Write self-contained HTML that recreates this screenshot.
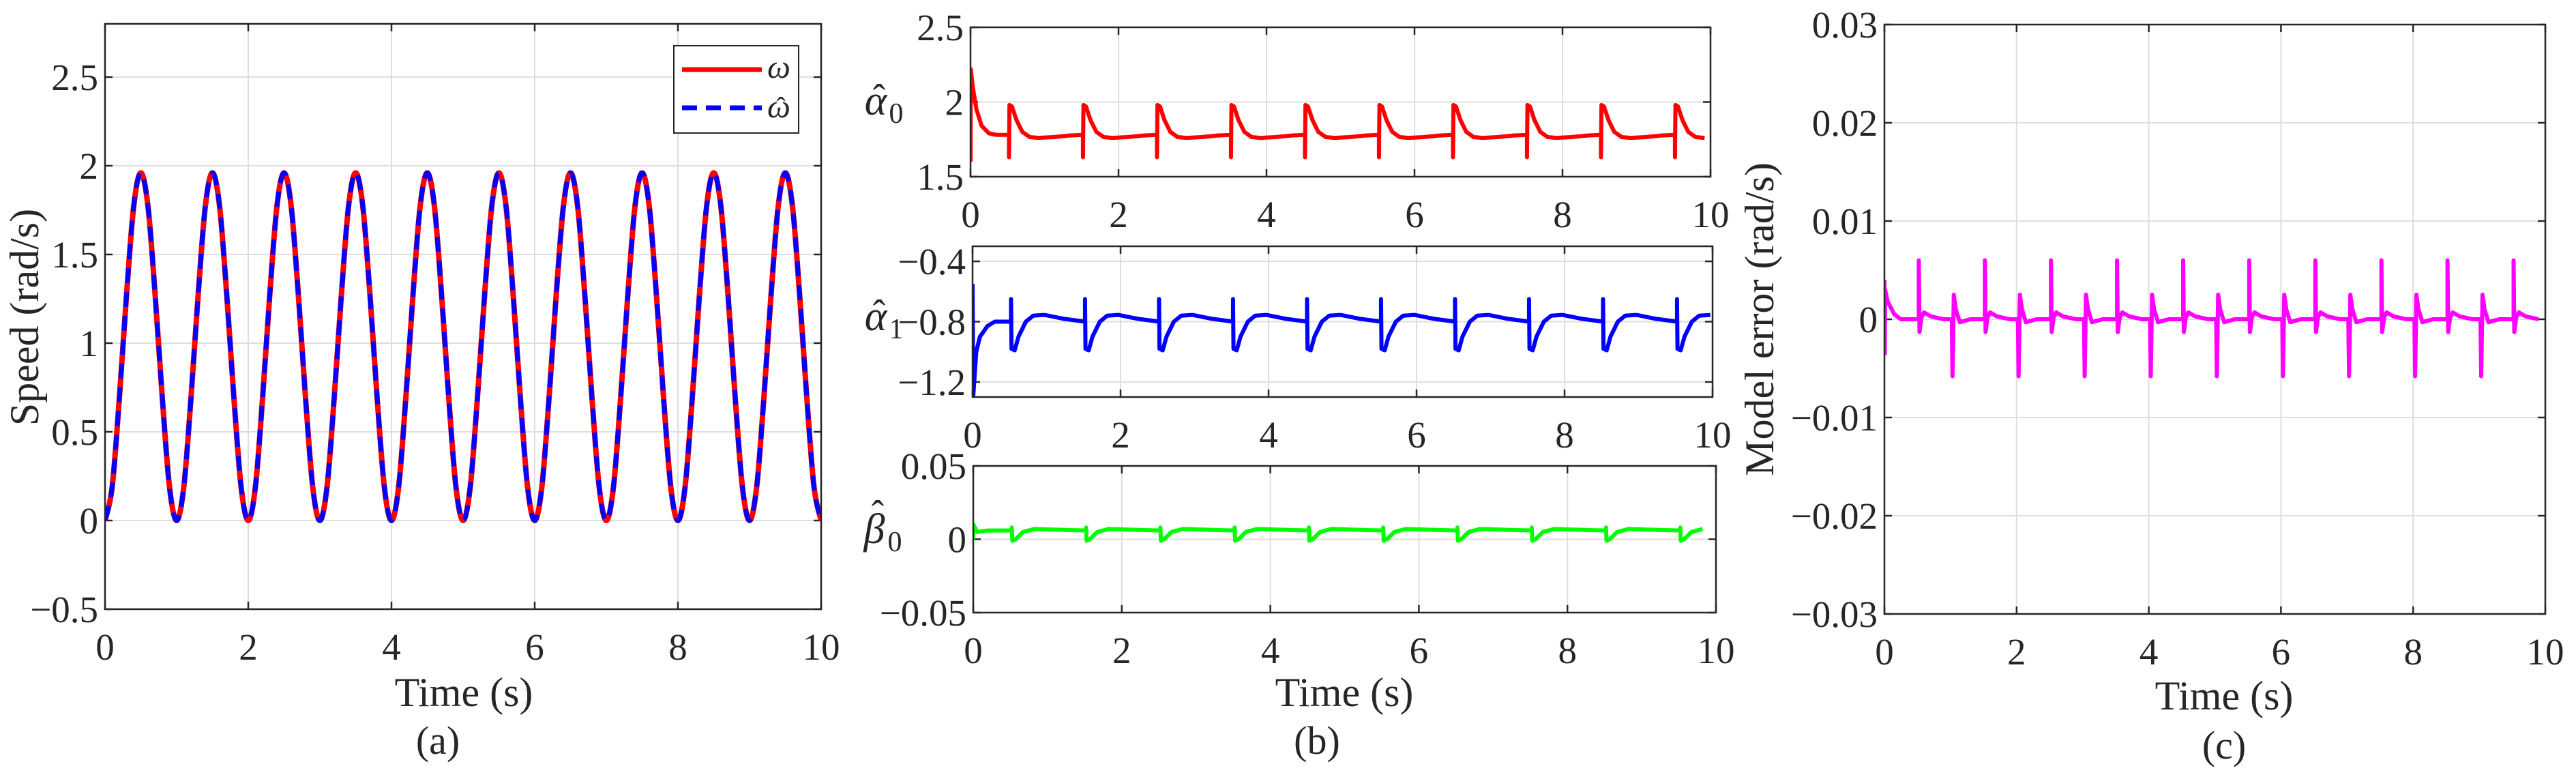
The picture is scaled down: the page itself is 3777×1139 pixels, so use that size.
<!DOCTYPE html>
<html><head><meta charset="utf-8"><style>
html,body{margin:0;padding:0;background:#fff;overflow:hidden;}
svg{display:block;font-family:"Liberation Serif",serif;}
</style></head><body>
<svg id="fig" width="3777" height="1139" viewBox="0 0 3777 1139" xmlns="http://www.w3.org/2000/svg"></svg>
<script>
// ---------- data ----------
const speedTimeStep = 0.1;
const speedValues = [0,0.19,0.69,1.27,1.77,1.96,1.77,1.27,0.69,0.19,
0,0.19,0.69,1.27,1.77,1.96,1.77,1.27,0.69,0.19,
0,0.19,0.69,1.27,1.77,1.96,1.77,1.27,0.69,0.19,
0,0.19,0.69,1.27,1.77,1.96,1.77,1.27,0.69,0.19,
0,0.19,0.69,1.27,1.77,1.96,1.77,1.27,0.69,0.19,
0,0.19,0.69,1.27,1.77,1.96,1.77,1.27,0.69,0.19,
0,0.19,0.69,1.27,1.77,1.96,1.77,1.27,0.69,0.19,
0,0.19,0.69,1.27,1.77,1.96,1.77,1.27,0.69,0.19,
0,0.19,0.69,1.27,1.77,1.96,1.77,1.27,0.69,0.19,
0,0.19,0.69,1.27,1.77,1.96,1.77,1.27,0.69,0.19,0];
const estSpeedValues = speedValues.slice();
const spikeTimes = [0.52,1.52,2.52,3.52,4.52,5.52,6.52,7.52,8.52,9.52];

const a0InitTimes = [0,0.003,0.03,0.08,0.15,0.25,0.35,0.52];
const a0InitValues = [1.6,2.22,2.1,1.95,1.84,1.79,1.78,1.78];
const a0CycleOffsets = [0,0.006,0.04,0.1,0.18,0.28,0.4,0.6,0.8,1.0];
const a0CycleValues = [1.63,1.98,1.97,1.88,1.80,1.765,1.76,1.765,1.775,1.78];

const a1InitTimes = [0,0.008,0.05,0.1,0.2,0.3,0.52];
const a1InitValues = [-0.55,-1.3,-1.0,-0.9,-0.83,-0.8,-0.8];
const a1CycleOffsets = [0,0.006,0.05,0.1,0.2,0.3,0.45,0.7,1.0];
const a1CycleValues = [-0.65,-0.98,-0.99,-0.9,-0.8,-0.76,-0.755,-0.78,-0.8];

const b0InitTimes = [0,0.003,0.05,0.2,0.52];
const b0InitValues = [0.0,0.01,0.005,0.006,0.006];
const b0CycleOffsets = [0,0.006,0.05,0.15,0.3,1.0];
const b0CycleValues = [0.008,-0.001,0.0,0.005,0.007,0.006];

const errInitTimes = [0,0.005,0.01,0.05,0.15,0.25,0.52];
const errInitValues = [0.004,-0.0035,0.003,0.0018,0.0005,0,0];
const errCycleOffsets = [0,0.01,0.04,0.08,0.18,0.38,0.5,0.51,0.53,0.56,0.62,0.78,1.0];
const errCycleValues = [0.006,-0.0013,0.0002,0.0007,0.0003,0,0,-0.0058,0.0025,0.001,-0.0003,0,0];

const xTicks = [0,2,4,6,8,10];
const speedTicks = [-0.5,0,0.5,1,1.5,2,2.5];
const speedTickLabels = ["\u22120.5","0","0.5","1","1.5","2","2.5"];
const a0Ticks = [1.5,2,2.5];
const a0TickLabels = ["1.5","2","2.5"];
const a1Ticks = [-1.2,-0.8,-0.4];
const a1TickLabels = ["\u22121.2","\u22120.8","\u22120.4"];
const b0Ticks = [-0.05,0,0.05];
const b0TickLabels = ["\u22120.05","0","0.05"];
const errTicks = [-0.03,-0.02,-0.01,0,0.01,0.02,0.03];
const errTickLabels = ["\u22120.03","\u22120.02","\u22120.01","0","0.01","0.02","0.03"];

// ---------- helpers ----------
const NS = "http://www.w3.org/2000/svg";
const svg = document.getElementById("fig");
function mk(tag, attrs, parent){
  const e = document.createElementNS(NS, tag);
  for (const k in attrs) e.setAttribute(k, attrs[k]);
  (parent||svg).appendChild(e);
  return e;
}
function buildSeries(initT, initV, offs, vals){
  const pts = [];
  initT.forEach((t,i)=>pts.push([t, initV[i]]));
  spikeTimes.forEach(s=>{
    offs.forEach((o,i)=>{ const t = s+o; if (t <= 10.001) pts.push([Math.min(t,10), vals[i]]); });
  });
  return pts;
}
function axes(name, L, R, T, B, xmin, xmax, ymin, ymax, yticks, ylabels){
  const g = mk("g", {});
  
  
  const sx = v => L + (v-xmin)/(xmax-xmin)*(R-L);
  const sy = v => B - (v-ymin)/(ymax-ymin)*(B-T);
  xTicks.forEach(t=>{
    const x = sx(t);
    if (t!==xmin && t!==xmax) mk("line",{x1:x,x2:x,y1:T,y2:B,stroke:"#dedede","stroke-width":2},g);
    mk("line",{x1:x,x2:x,y1:B,y2:B-11,stroke:"#262626","stroke-width":2.5},g);
    mk("line",{x1:x,x2:x,y1:T,y2:T+11,stroke:"#262626","stroke-width":2.5},g);
    const tx = mk("text",{x:x,y:B+74,"font-size":55,"text-anchor":"middle",fill:"#262626"},g);
    tx.textContent = String(t);
    
    
  });
  yticks.forEach((t,i)=>{
    const y = sy(t);
    if (Math.abs(y-T)>2 && Math.abs(y-B)>2) mk("line",{x1:L,x2:R,y1:y,y2:y,stroke:"#dedede","stroke-width":2},g);
    mk("line",{x1:L,x2:L+11,y1:y,y2:y,stroke:"#262626","stroke-width":2.5},g);
    mk("line",{x1:R,x2:R-11,y1:y,y2:y,stroke:"#262626","stroke-width":2.5},g);
    const tx = mk("text",{x:L-10,y:y+19,"font-size":55,"text-anchor":"end",fill:"#262626"},g);
    tx.textContent = ylabels[i];
    
    
  });
  return {g, sx, sy, L, R, T, B};
}
function frame(ax){
  mk("rect",{x:ax.L,y:ax.T,width:ax.R-ax.L,height:ax.B-ax.T,fill:"none",stroke:"#262626","stroke-width":2.5},ax.g);
}
function clipFor(ax, id){
  const cp = mk("clipPath",{id:id});
  mk("rect",{x:ax.L,y:ax.T,width:ax.R-ax.L,height:ax.B-ax.T},cp);
  return "url(#"+id+")";
}
function polyline(ax, pts, color, w, name, extra){
  const d = pts.map((p,i)=>(i?"L":"M")+ax.sx(p[0]).toFixed(1)+" "+ax.sy(p[1]).toFixed(1)).join(" ");
  const p = mk("path",Object.assign({d:d,fill:"none",stroke:color,"stroke-width":w,"stroke-linejoin":"round","stroke-linecap":"butt"},extra||{}),ax.g);
  
  
  return p;
}
function smoothPath(ax, values, step){
  const P = values.map((v,i)=>[ax.sx(i*step), ax.sy(v)]);
  let d = "M"+P[0][0].toFixed(1)+" "+P[0][1].toFixed(1);
  for (let i=0;i<P.length-1;i++){
    const p0=P[Math.max(0,i-1)], p1=P[i], p2=P[i+1], p3=P[Math.min(P.length-1,i+2)];
    const c1=[p1[0]+(p2[0]-p0[0])/6, p1[1]+(p2[1]-p0[1])/6];
    const c2=[p2[0]-(p3[0]-p1[0])/6, p2[1]-(p3[1]-p1[1])/6];
    d += " C"+c1[0].toFixed(1)+" "+c1[1].toFixed(1)+" "+c2[0].toFixed(1)+" "+c2[1].toFixed(1)+" "+p2[0].toFixed(1)+" "+p2[1].toFixed(1);
  }
  return d;
}
function text(x,y,str,size,name,extra){
  const t = mk("text",Object.assign({x:x,y:y,"font-size":size,"text-anchor":"middle",fill:"#262626"},extra||{}));
  t.textContent = str;
  
  
  return t;
}
function hatSymbol(x,y,sym,sub,name,hatDy){
  text(x,y,sym,62,name,{"font-style":"italic"});
  text(x+5,y+hatDy,"\u02C6",56,name+"-hat");
  if (sub) text(x+30,y+12,sub,42,name+"-sub");
}

// ---------- panel (a) ----------
const axA = axes("speed-axes",154,1204,35,893,0,10,-0.5,2.8,speedTicks,speedTickLabels);
const clipA = clipFor(axA,"cA");
const pw = mk("path",{d:smoothPath(axA,speedValues,speedTimeStep),fill:"none",stroke:"#ff0000","stroke-width":8,"clip-path":clipA},axA.g);


const pe = mk("path",{d:smoothPath(axA,estSpeedValues,speedTimeStep),fill:"none",stroke:"#0000ff","stroke-width":7,"stroke-dasharray":"22 13","clip-path":clipA},axA.g);


frame(axA);
const leg = mk("g",{});


mk("rect",{x:988,y:67,width:183,height:128,fill:"#fff",stroke:"#262626","stroke-width":2},leg);
const le1 = mk("line",{x1:1000,x2:1117,y1:102,y2:102,stroke:"#ff0000","stroke-width":7},leg);


const le2 = mk("line",{x1:1000,x2:1117,y1:158,y2:158,stroke:"#0000ff","stroke-width":7,"stroke-dasharray":"22 13"},leg);


text(1142,114,"\u03C9",48,"legend-label-omega",{"font-style":"italic"});
text(1142,172,"\u03C9",48,"legend-label-omega-hat",{"font-style":"italic"});
text(1145,170,"\u02C6",40,"legend-label-hat");
text(680,1035,"Time (s)",60,"x-axis-title-a");
text(642,1105,"(a)",58,"caption-a");
text(0,0,"Speed (rad/s)",60,"y-axis-title-a",{transform:"translate(56,465) rotate(-90)"});

// ---------- panel (b) ----------
const axB0 = axes("alpha0-axes",1423,2508,40,259,0,10,1.5,2.5,a0Ticks,a0TickLabels);
polyline(axB0, buildSeries(a0InitTimes,a0InitValues,a0CycleOffsets,a0CycleValues), "#ff0000", 6, "alpha0-line", {"clip-path":clipFor(axB0,"cB0")});
frame(axB0);
const axB1 = axes("alpha1-axes",1426,2511,361,582,0,10,-1.3,-0.3,a1Ticks,a1TickLabels);
polyline(axB1, buildSeries(a1InitTimes,a1InitValues,a1CycleOffsets,a1CycleValues), "#0000ff", 6, "alpha1-line", {"clip-path":clipFor(axB1,"cB1")});
frame(axB1);
const axB2 = axes("beta0-axes",1427,2516,683,898,0,10,-0.05,0.05,b0Ticks,b0TickLabels);
polyline(axB2, buildSeries(b0InitTimes,b0InitValues,b0CycleOffsets,b0CycleValues), "#00ff00", 6, "beta0-line", {"clip-path":clipFor(axB2,"cB2")});
frame(axB2);
hatSymbol(1284,168,"\u03B1","0","y-axis-title-alpha0",-6);
hatSymbol(1284,484,"\u03B1","1","y-axis-title-alpha1",-6);
hatSymbol(1282,796,"\u03B2","0","y-axis-title-beta0",-24);
text(1971,1035,"Time (s)",60,"x-axis-title-b");
text(1931,1105,"(b)",58,"caption-b");

// ---------- panel (c) ----------
const axC = axes("model-error-axes",2763,3732,36,900,0,10,-0.03,0.03,errTicks,errTickLabels);
polyline(axC, buildSeries(errInitTimes,errInitValues,errCycleOffsets,errCycleValues), "#ff00ff", 6, "model-error-line", {"clip-path":clipFor(axC,"cC")});
frame(axC);
text(3261,1040,"Time (s)",60,"x-axis-title-c");
text(3261,1112,"(c)",58,"caption-c");
text(0,0,"Model error (rad/s)",60,"y-axis-title-c",{transform:"translate(2600,468) rotate(-90)"});
</script>
</body></html>
